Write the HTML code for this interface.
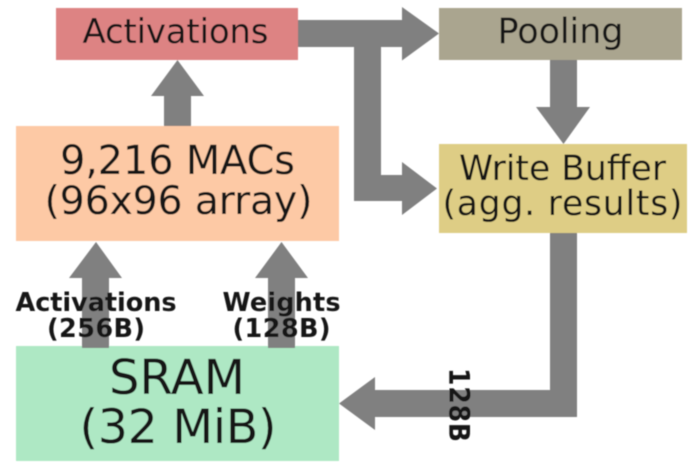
<!DOCTYPE html>
<html><head><meta charset="utf-8"><style>
html,body{margin:0;padding:0;background:#fff;width:700px;height:468px;overflow:hidden}
svg{display:block}
text{font-family:"DejaVu Sans",sans-serif;fill:#141414;text-anchor:middle}
.b{font-weight:bold}
</style></head><body>
<svg width="700" height="468" viewBox="0 0 700 468" xmlns="http://www.w3.org/2000/svg">
<defs><filter id="s" x="-2%" y="-2%" width="104%" height="104%"><feGaussianBlur stdDeviation="0.4"/></filter></defs>
<rect width="700" height="468" fill="#fff"/>
<g filter="url(#s)">
<rect x="56" y="8" width="242" height="52" fill="#dd8383"/>
<rect x="16" y="126" width="323" height="115" fill="#fdc9a5"/>
<rect x="439" y="8" width="243" height="52" fill="#aaa58f"/>
<rect x="439" y="144" width="248" height="89" fill="#decd85"/>
<rect x="16" y="346" width="323" height="115" fill="#aee8c4"/>
<g fill="#808080">
<polygon points="164,126 164,96 151,96 177.500,60 204,96 191,96 191,126"/>
<polygon points="298,20 402,20 402,7 439,33.500 402,60.500 402,47 381,47 381,175 402,175 402,162 437,188.500 402,215 402,201 354,201 354,47 298,47"/>
<polygon points="550,60 577,60 577,107 590,107 563.500,144 536,107 550,107"/>
<polygon points="82,348 82,278 69,278 96,242 122,278 109,278 109,348"/>
<polygon points="268,348 268,278 255,278 281.500,242 308,278 295,278 295,348"/>
<polygon points="550,233 577,233 577,417 375,417 375,430 339,403.500 375,377 375,390 550,390"/>
</g>
<text x="175.500" y="43" font-size="34" textLength="186">Activations</text>
<text x="560.500" y="43" font-size="35" textLength="126">Pooling</text>
<text x="177.500" y="174" font-size="40" textLength="235">9,216 MACs</text>
<text x="178.500" y="214" font-size="39.500" textLength="268">(96x96 array)</text>
<text x="562.500" y="180" font-size="34.500" textLength="207">Write Buffer</text>
<text x="562.500" y="215" font-size="34.500" textLength="240">(agg. results)</text>
<text x="177" y="394" font-size="48" textLength="136">SRAM</text>
<text x="178" y="443" font-size="47.500" textLength="197">(32 MiB)</text>
<text class="b" x="96" y="311" font-size="25.500" textLength="161">Activations</text>
<text class="b" x="96" y="337" font-size="25.500" textLength="98">(256B)</text>
<text class="b" x="281.500" y="311" font-size="25.500" textLength="118">Weights</text>
<text class="b" x="281.500" y="337" font-size="25.500" textLength="98">(128B)</text>
<text class="b" font-size="25" transform="translate(449,405) rotate(90) scale(1,1.150)" x="0" y="0" textLength="74">128B</text>
</g>
</svg>
</body></html>
